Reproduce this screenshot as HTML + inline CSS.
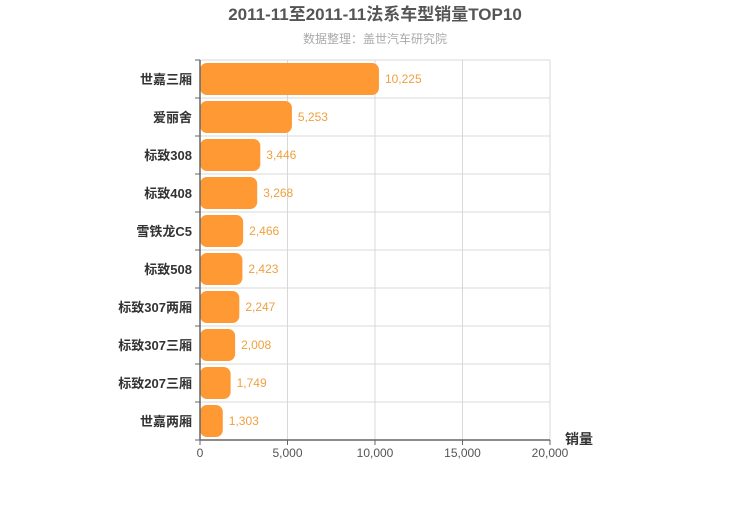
<!DOCTYPE html>
<html><head><meta charset="utf-8"><style>
body{margin:0;background:#fff;font-family:"Liberation Sans","Noto Sans CJK SC",sans-serif;}
svg text{font-family:"Liberation Sans","Noto Sans CJK SC",sans-serif;}
</style></head><body>
<svg id="c" width="750" height="500">
<text x="375" y="20" text-anchor="middle" font-size="17" font-weight="bold" fill="#555">2011-11至2011-11法系车型销量TOP10</text>
<text x="375" y="43" text-anchor="middle" font-size="12" fill="#aaa">数据整理：盖世汽车研究院</text>
<g id="grid"></g><g id="bars"></g><g id="axes"></g>
<text x="565" y="444" font-size="14" font-weight="bold" fill="#333">销量</text>
</svg>
<script>
const categories=["世嘉三厢","爱丽舍","标致308","标致408","雪铁龙C5","标致508","标致307两厢","标致307三厢","标致207三厢","世嘉两厢"];
const values=[10225,5253,3446,3268,2466,2423,2247,2008,1749,1303];
const ticks=[0,5000,10000,15000,20000];
const NS="http://www.w3.org/2000/svg";
const X0=200,X1=550,Y0=60,Y1=440,MAX=20000;
const xs=v=>X0+(v/MAX)*(X1-X0);
const band=(Y1-Y0)/categories.length;
function mk(t,a,p){const e=document.createElementNS(NS,t);for(const k in a)e.setAttribute(k,a[k]);p.appendChild(e);return e;}
const grid=document.getElementById('grid'),bars=document.getElementById('bars'),axes=document.getElementById('axes');
ticks.forEach(t=>{
 const l=mk('line',{x1:xs(t),x2:xs(t),y1:Y0,y2:Y1,stroke:'#d8d8d8'},grid);
 
 
 const tx=mk('text',{x:xs(t),y:Y1+17,'text-anchor':'middle','font-size':12,fill:'#555'},axes);
 tx.textContent=t.toLocaleString('en-US');
 
 
 const tk=mk('line',{x1:xs(t),x2:xs(t),y1:Y1,y2:Y1+5,stroke:'#666'},axes);
 
 
});
for(let i=0;i<=categories.length;i++){
 const y=Y0+i*band;
 const l=mk('line',{x1:X0,x2:X1,y1:y,y2:y,stroke:'#d8d8d8'},grid);
 
 
 const tk=mk('line',{x1:X0-5,x2:X0,y1:y,y2:y,stroke:'#666'},axes);
 
 
}
categories.forEach((c,i)=>{
 const y=Y0+i*band;
 const r=mk('rect',{x:X0,y:y+3,width:xs(values[i])-X0,height:band-6,rx:7,fill:'#ff9933'},bars);
 
 
 const v=mk('text',{x:xs(values[i])+6,y:y+band/2+4,'font-size':12,fill:'#f0a040'},bars);
 v.textContent=values[i].toLocaleString('en-US');
 
 
 const lb=mk('text',{x:X0-8,y:y+band/2+5,'text-anchor':'end','font-size':13,'font-weight':'bold',fill:'#333'},axes);
 lb.textContent=c;
 
 
});
const ya=mk('line',{x1:X0,x2:X0,y1:Y0,y2:Y1,stroke:'#666','stroke-width':1.5},axes);


const xa=mk('line',{x1:X0,x2:X1,y1:Y1,y2:Y1,stroke:'#666','stroke-width':1.5},axes);


</script>
</body></html>
